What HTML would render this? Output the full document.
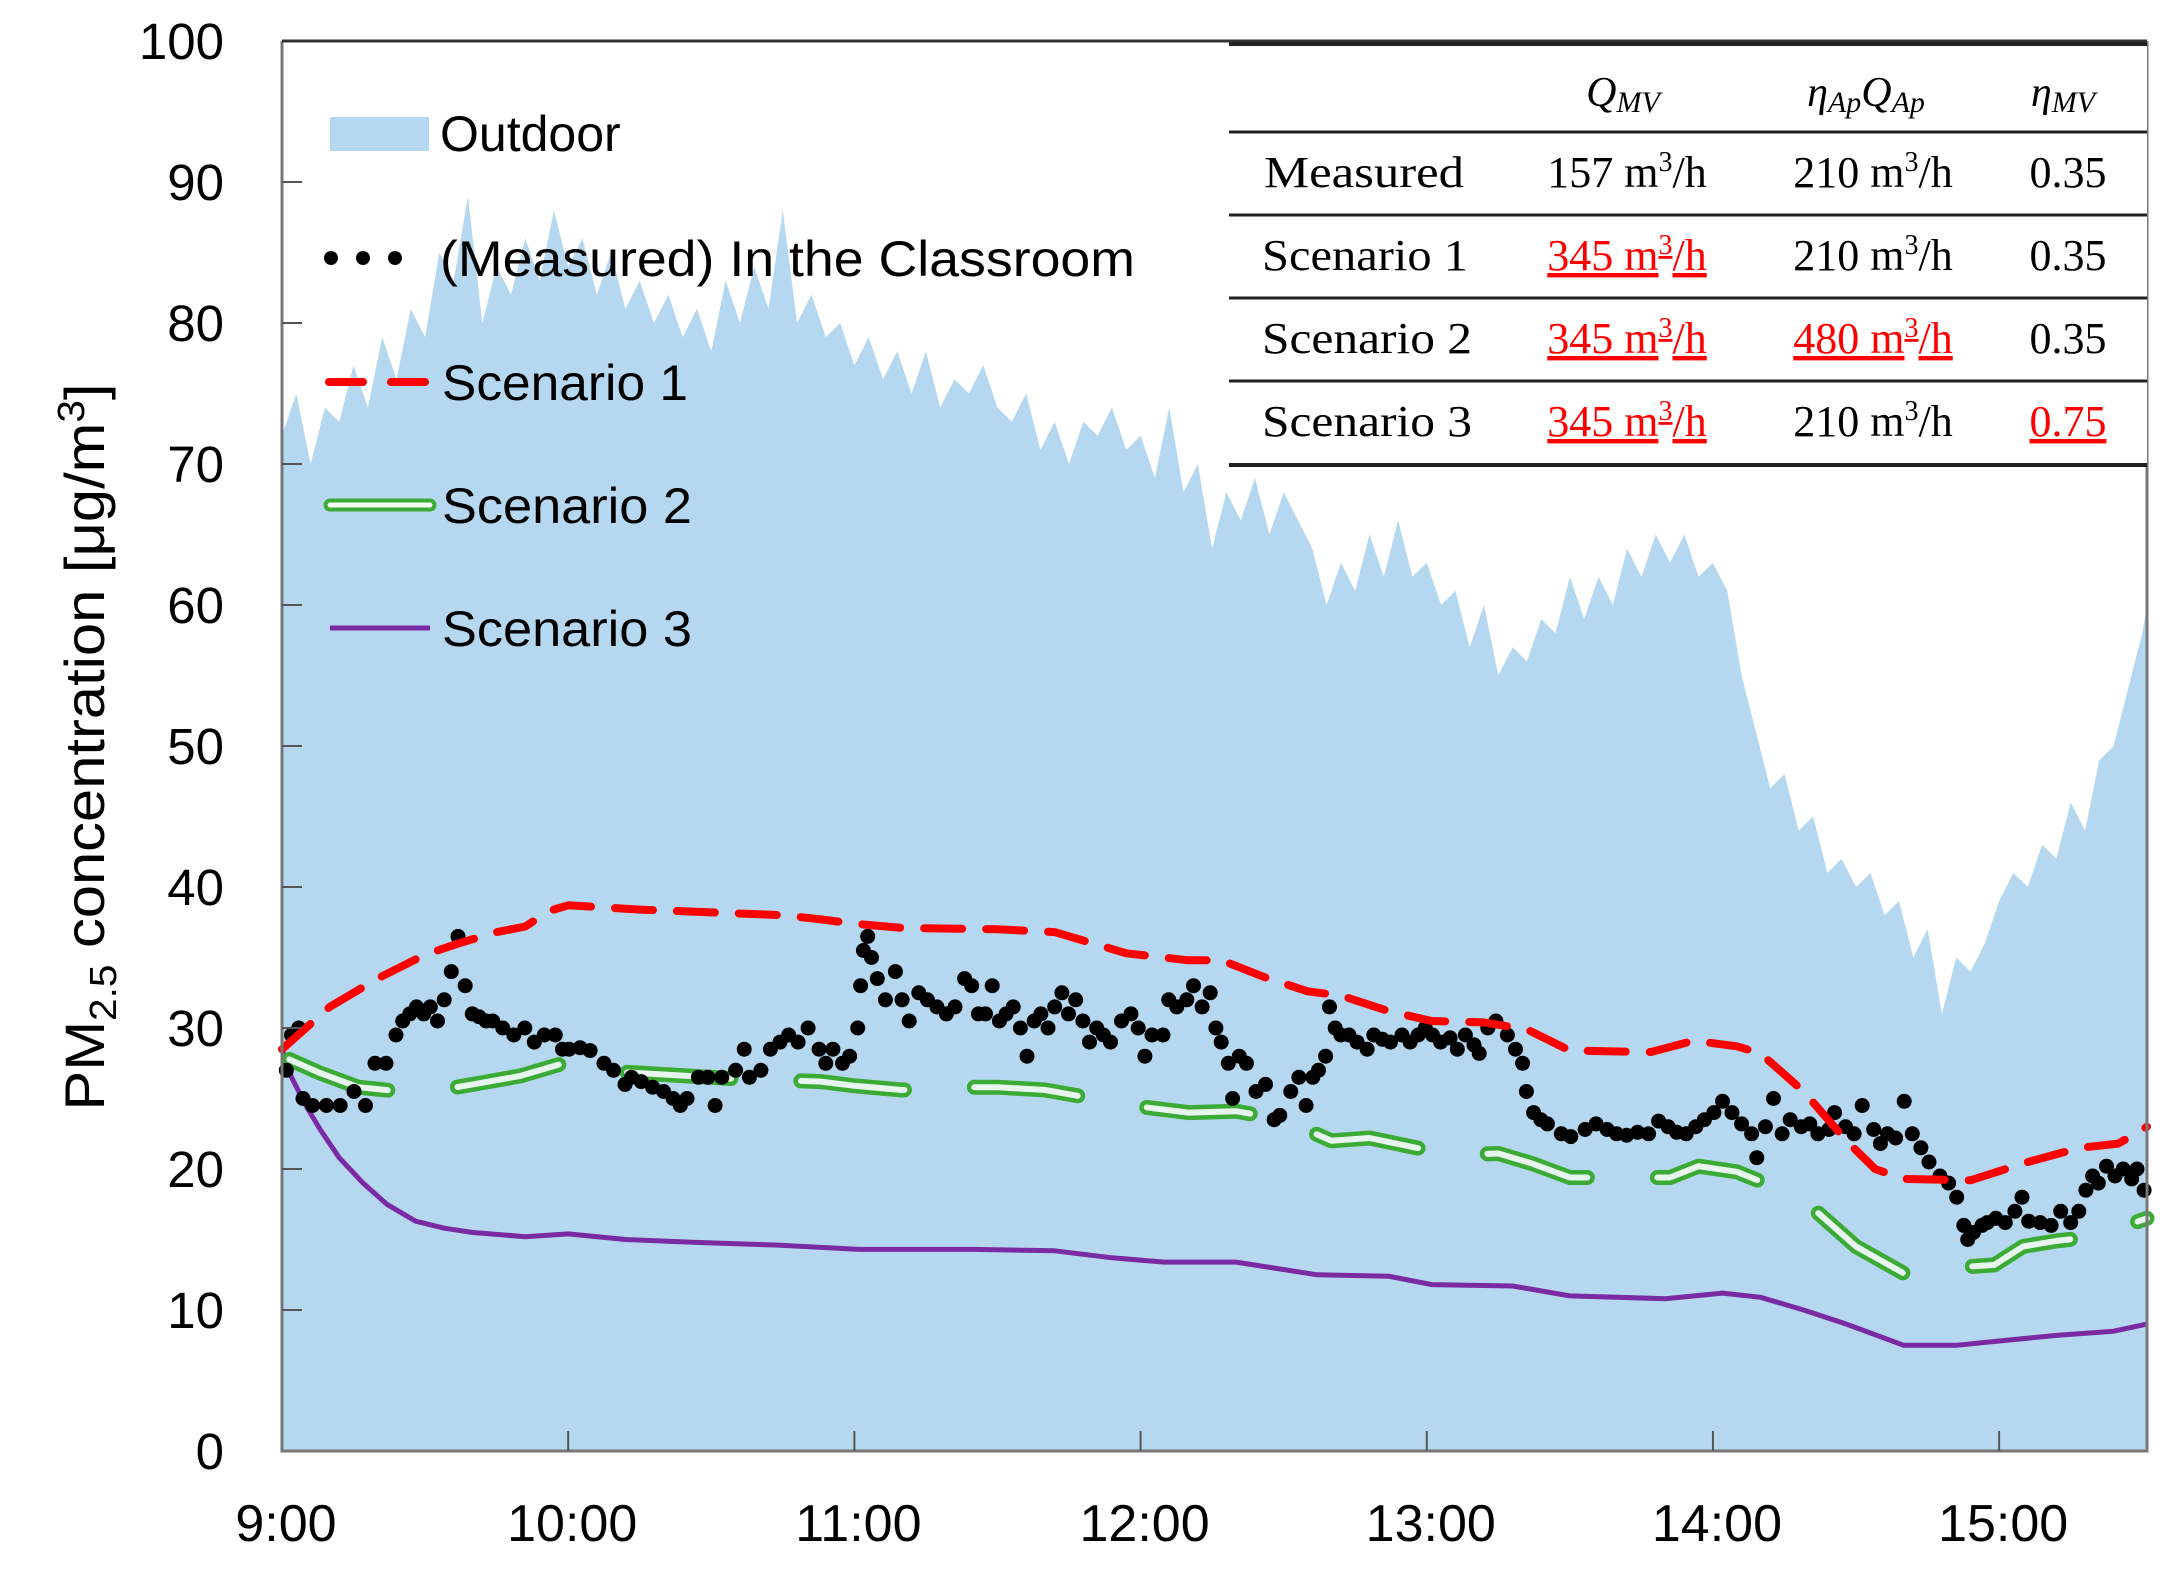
<!DOCTYPE html>
<html><head><meta charset="utf-8"><style>
html,body{margin:0;padding:0;background:#fff;}
svg{display:block;font-family:"Liberation Sans",sans-serif;}
.tbl{font-family:"Liberation Serif",serif;}
</style></head><body>
<svg id="chart" width="2164" height="1586" viewBox="0 0 2164 1586" xmlns="http://www.w3.org/2000/svg">
<g id="plot"></g>
<g id="axes"></g>
<g id="legend">
  <rect x="330" y="117" width="99" height="34" fill="#b5d8f0"/>
  <text x="440" y="151" font-size="50">Outdoor</text>
  <circle cx="331" cy="258" r="7"/>
  <circle cx="363" cy="258" r="7"/>
  <circle cx="395" cy="258" r="7"/>
  <text x="440" y="276" font-size="50" textLength="695" lengthAdjust="spacingAndGlyphs">(Measured) In the Classroom</text>
  <line x1="329" y1="382" x2="427" y2="382" stroke="#ff0000" stroke-width="8" stroke-dasharray="34 28" stroke-linecap="round"/>
  <text x="442" y="400" font-size="50" textLength="246" lengthAdjust="spacingAndGlyphs">Scenario 1</text>
  <line x1="330" y1="505" x2="430" y2="505" stroke="#3bab36" stroke-width="13" stroke-linecap="round"/>
  <line x1="330" y1="505" x2="430" y2="505" stroke="#f4fbf4" stroke-width="5" stroke-linecap="round"/>
  <text x="442" y="523" font-size="50" textLength="250" lengthAdjust="spacingAndGlyphs">Scenario 2</text>
  <line x1="330" y1="628" x2="430" y2="628" stroke="#7a2aa3" stroke-width="5"/>
  <text x="442" y="646" font-size="50" textLength="250" lengthAdjust="spacingAndGlyphs">Scenario 3</text>
</g>
<g id="table" class="tbl">
  <rect x="1229" y="42" width="918" height="423" fill="#fff"/>
  <line x1="1229" y1="44" x2="2147" y2="44" stroke="#222" stroke-width="4"/>
  <line x1="1229" y1="132" x2="2147" y2="132" stroke="#222" stroke-width="3"/>
  <line x1="1229" y1="215" x2="2147" y2="215" stroke="#222" stroke-width="3"/>
  <line x1="1229" y1="298" x2="2147" y2="298" stroke="#222" stroke-width="3"/>
  <line x1="1229" y1="381" x2="2147" y2="381" stroke="#222" stroke-width="3"/>
  <line x1="1229" y1="465" x2="2147" y2="465" stroke="#222" stroke-width="4"/>
  <g font-size="42" font-style="italic" text-anchor="middle">
    <text x="1623" y="106">Q<tspan font-size="30" dy="6">MV</tspan></text>
    <text x="1866" y="106">η<tspan font-size="30" dy="6">Ap</tspan><tspan dy="-6">Q</tspan><tspan font-size="30" dy="6">Ap</tspan></text>
    <text x="2063" y="106">η<tspan font-size="30" dy="6">MV</tspan></text>
  </g>
  <g font-size="44">
    <text x="1264" y="187" textLength="200" lengthAdjust="spacingAndGlyphs">Measured</text>
    <text x="1262" y="270" textLength="206" lengthAdjust="spacingAndGlyphs">Scenario 1</text>
    <text x="1262" y="353" textLength="210" lengthAdjust="spacingAndGlyphs">Scenario 2</text>
    <text x="1262" y="436" textLength="210" lengthAdjust="spacingAndGlyphs">Scenario 3</text>
  </g>
  <g font-size="44" text-anchor="middle">
    <text x="1627" y="187">157 m<tspan font-size="28" dy="-16">3</tspan><tspan dy="16">/h</tspan></text>
    <text x="1627" y="270" fill="#f00" text-decoration="underline">345 m<tspan font-size="28" dy="-16">3</tspan><tspan dy="16">/h</tspan></text>
    <text x="1627" y="353" fill="#f00" text-decoration="underline">345 m<tspan font-size="28" dy="-16">3</tspan><tspan dy="16">/h</tspan></text>
    <text x="1627" y="436" fill="#f00" text-decoration="underline">345 m<tspan font-size="28" dy="-16">3</tspan><tspan dy="16">/h</tspan></text>
    <text x="1873" y="187">210 m<tspan font-size="28" dy="-16">3</tspan><tspan dy="16">/h</tspan></text>
    <text x="1873" y="270">210 m<tspan font-size="28" dy="-16">3</tspan><tspan dy="16">/h</tspan></text>
    <text x="1873" y="353" fill="#f00" text-decoration="underline">480 m<tspan font-size="28" dy="-16">3</tspan><tspan dy="16">/h</tspan></text>
    <text x="1873" y="436">210 m<tspan font-size="28" dy="-16">3</tspan><tspan dy="16">/h</tspan></text>
    <text x="2068" y="187">0.35</text>
    <text x="2068" y="270">0.35</text>
    <text x="2068" y="353">0.35</text>
    <text x="2068" y="436" fill="#f00" text-decoration="underline">0.75</text>
  </g>
</g>
<text transform="translate(104,747) rotate(-90)" text-anchor="middle" font-size="56" textLength="727" lengthAdjust="spacingAndGlyphs">PM<tspan font-size="38" dy="12">2.5</tspan><tspan dy="-12"> concentration [μg/m</tspan><tspan font-size="38" dy="-20">3</tspan><tspan dy="20">]</tspan></text>
</svg>
<script>
const yTicks=[0,10,20,30,40,50,60,70,80,90,100];
const xTickMin=[0,60,120,180,240,300,360];
const xTickLabels=["9:00","10:00","11:00","12:00","13:00","14:00","15:00"];
const outdoorTime=[0,3,6,9,12,15,18,21,24,27,30,33,36,39,42,45,48,51,54,57,60,63,66,69,72,75,78,81,84,87,90,93,96,99,102,105,108,111,114,117,120,123,126,129,132,135,138,141,144,147,150,153,156,159,162,165,168,171,174,177,180,183,186,189,192,195,198,201,204,207,210,213,216,219,222,225,228,231,234,237,240,243,246,249,252,255,258,261,264,267,270,273,276,279,282,285,288,291,294,297,300,303,306,309,312,315,318,321,324,327,330,333,336,339,342,345,348,351,354,357,360,363,366,369,372,375,378,381,384,387,390,391];
const outdoorVal=[72,75,70,74,73,77,74,79,76,81,79,85,83,89,80,84,82,86,83,88,84,86,82,85,81,83,80,82,79,81,78,83,80,84,81,88,80,82,79,80,77,79,76,78,75,78,74,76,75,77,74,73,75,71,73,70,73,72,74,71,72,69,74,68,70,64,68,66,69,65,68,66,64,60,63,61,65,62,66,62,63,60,61,57,60,55,57,56,59,58,62,59,62,60,64,62,65,63,65,62,63,61,55,51,47,48,44,45,41,42,40,41,38,39,35,37,31,35,34,36,39,41,40,43,42,46,44,49,50,54,58,60];
const s1Time=[0,10,20,30,37,45,51,56,60,75,90,105,113,120,130,150,162,170,177,190,197,206,215,222,232,241,252,261,270,287,296,305,310,319,328,334,340,354,366,377,385,391];
const s1Val=[28.5,31.5,33.5,35.2,36,36.8,37.2,38.3,38.7,38.4,38.2,38,37.7,37.4,37.1,37,36.8,36,35.3,34.8,34.8,33.6,32.6,32.3,31.2,30.5,30.4,29.9,28.4,28.3,29.1,28.7,28.2,25.5,22,20,19.3,19.2,20.5,21.5,21.8,23];
const s2Time=[0,8,16,25,33,40,50,60,64,70,80,95,105,113,120,130,138,150,160,170,178,190,200,210,220,228,235,245,255,262,270,280,291,297,305,313,320,330,340,350,359,365,372,380,391];
const s2Val=[28,26.8,25.8,25.5,25.6,26,26.6,27.6,27.5,26.9,26.7,26.4,26.3,26.2,25.9,25.6,25.8,25.8,25.6,25,24.5,24,24.1,23.5,22,22.2,21.7,21,21.1,20.4,19.4,19.4,19.4,20.2,19.8,18.7,17.5,14.5,12.6,13,13.2,14.5,14.9,15.2,16.5];
const s3Time=[0,2,5,8,12,17,22,28,34,40,51,60,72,86,104,121,145,162,174,185,200,217,232,241,258,270,290,302,310,319,328,340,351,360,372,384,391];
const s3Val=[28.5,26.5,24.5,22.8,20.8,19,17.5,16.3,15.8,15.5,15.2,15.4,15,14.8,14.6,14.3,14.3,14.2,13.7,13.4,13.4,12.5,12.4,11.8,11.7,11,10.8,11.2,10.9,10,9,7.5,7.5,7.8,8.2,8.5,9];
const measTime=[0.9,2,3.5,4.4,6.4,9.3,12.2,15.1,17.5,19.5,21.8,23.9,25.3,26.8,28.2,29.7,31.1,32.6,34,35.5,36.9,38.4,39.9,41.3,42.8,44.2,46.3,48.6,50.9,52.9,55,57.3,58.8,60.2,62.5,64.6,67.5,69.5,71.9,73.3,75.3,77.7,80,82,83.5,84.9,87.3,89.3,90.8,92.2,95.1,96.9,98,100.4,102.4,104.4,106.2,108.2,110.3,112.6,114,115.5,117.5,119,120.7,121.3,121.9,122.8,123.6,124.8,126.5,128.6,130,131.5,133.5,135.3,137.3,139.3,141.1,143.1,144.6,146,147.5,148.9,150.4,151.8,153.3,154.8,156.2,157.7,159.1,160.6,162,163.5,164.9,166.4,167.9,169.3,170.8,172.2,173.7,176,178,179.5,180.9,182.4,184.7,185.9,187.6,189.7,191.1,192.9,194.6,195.8,196.9,198.4,199.3,200.7,202.2,204.2,206.2,208,209.2,211.5,213.2,214.7,216.1,217.3,218.8,219.6,220.8,222,223.7,225.4,227.5,228.9,230.7,232.4,234.8,236.5,238.2,239.7,241.2,242.9,244.9,246.4,248.1,249.9,251,252.8,254.5,256.9,258.6,260.1,260.9,262.4,263.9,265.3,268.2,270.2,273.2,275.5,277.8,279.8,281.9,284.2,286.5,288.6,290.6,292.4,294.4,296.4,298.2,300.2,302,304,306,308.1,309.2,311,312.7,314.5,316.2,318.5,320.3,322,324.3,325.5,327.8,329.6,331.3,333.7,335.1,336.6,338.3,340.1,341.8,343.6,345.3,347.6,349.4,351.1,352.6,353.4,354.6,356.4,357.5,359.3,361.3,363.3,364.8,366.2,368.6,370.9,372.9,375,376.7,378.2,379.6,380.8,382.5,384.3,386,387.8,388.9,390.4];
const measVal=[27,29.5,30,25,24.5,24.5,24.5,25.5,24.5,27.5,27.5,29.5,30.5,31,31.5,31,31.5,30.5,32,34,36.5,33,31,30.8,30.5,30.5,30,29.5,30,29,29.5,29.5,28.5,28.5,28.6,28.4,27.5,27,26,26.5,26.2,25.8,25.5,25,24.5,25,26.5,26.5,24.5,26.5,27,28.5,26.5,27,28.5,29,29.5,29,30,28.5,27.5,28.5,27.5,28,30,33,35.5,36.5,35,33.5,32,34,32,30.5,32.5,32,31.5,31,31.5,33.5,33,31,31,33,30.5,31,31.5,30,28,30.5,31,30,31.5,32.5,31,32,30.5,29,30,29.5,29,30.5,31,30,28,29.5,29.5,32,31.5,32,33,31.5,32.5,30,29,27.5,25,28,27.5,25.5,26,23.5,23.8,25.5,26.5,24.5,26.5,27,28,31.5,30,29.5,29.5,29,28.5,29.5,29.2,29,29.5,29,29.5,30,29.5,29,29.3,28.5,29.5,28.8,28.2,30,30.5,29.5,28.5,27.5,25.5,24,23.5,23.2,22.5,22.3,22.8,23.2,22.8,22.5,22.4,22.6,22.5,23.4,23,22.6,22.5,23,23.5,24,24.8,24,23.2,22.5,20.8,23,25,22.5,23.5,23,23.2,22.5,22.8,24,23,22.5,24.5,22.8,21.8,22.5,22.2,24.8,22.5,21.5,20.5,19.5,19,18,16,15,15.5,16,16.2,16.5,16.2,17,18,16.3,16.2,16,17,16.2,17,18.5,19.5,19,20.2,19.5,20,19.3,20,18.5];

const X0=282,X1=2147,Y0=1451,Y100=41,TMAX=391;
function xs(m){return X0+m*(X1-X0)/TMAX;}
function ys(v){return Y0-v*(Y0-Y100)/100;}
const NS="http://www.w3.org/2000/svg";
function mk(tag,attrs,parent){const e=document.createElementNS(NS,tag);for(const k in attrs)e.setAttribute(k,attrs[k]);parent.appendChild(e);return e;}
const plotG=document.getElementById('plot'),axesG=document.getElementById('axes');

let d="M"+xs(0)+","+ys(0);
outdoorTime.forEach((t,i)=>{d+=" L"+xs(t).toFixed(1)+","+ys(outdoorVal[i]).toFixed(1);});
d+=" L"+xs(TMAX)+","+ys(0)+" Z";
const area=mk('path',{d:d,fill:"#b5d8f0"},plotG);



function linePath(ts,vs){return ts.map((t,i)=>(i?"L":"M")+xs(t).toFixed(1)+","+ys(vs[i]).toFixed(1)).join(" ");}

const p3=mk('path',{d:linePath(s3Time,s3Val),fill:"none",stroke:"#7a2aa3","stroke-width":5,"stroke-linejoin":"round"},plotG);



const p2a=mk('path',{d:linePath(s2Time,s2Val),fill:"none",stroke:"#3bab36","stroke-width":15,"stroke-dasharray":"104 70","stroke-dashoffset":"-8","stroke-linecap":"round","stroke-linejoin":"round"},plotG);


const p2b=mk('path',{d:linePath(s2Time,s2Val),fill:"none",stroke:"#e8f5ee","stroke-width":6,"stroke-dasharray":"104 70","stroke-dashoffset":"-8","stroke-linecap":"round","stroke-linejoin":"round"},plotG);



const dots=mk('g',{},plotG);


measTime.forEach((t,i)=>{
  const c=mk('circle',{cx:xs(t).toFixed(1),cy:ys(measVal[i]).toFixed(1),r:7.5,fill:"#000"},dots);
  
  
});

const p1=mk('path',{d:linePath(s1Time,s1Val),fill:"none",stroke:"#ff0000","stroke-width":8,"stroke-dasharray":"38 24","stroke-linecap":"round","stroke-linejoin":"round"},plotG);



const fr=mk('path',{d:`M${X0},${Y100} L${X0},${Y0} L${X1},${Y0} L${X1},${Y100}`,fill:"none",stroke:"#777","stroke-width":3},axesG);


const topBorder=mk('line',{x1:X0,y1:Y100,x2:X1,y2:Y100,stroke:"#333","stroke-width":3},axesG);



yTicks.forEach(v=>{
  if(v>0&&v<100){const t=mk('line',{x1:X0,y1:ys(v),x2:X0+20,y2:ys(v),stroke:"#555","stroke-width":2},axesG);
  
  }
  const l=mk('text',{x:224,y:ys(v)+18,"text-anchor":"end","font-size":51},axesG);
  
  
  l.textContent=String(v);
});
xTickMin.forEach((m,i)=>{
  if(m>0){const t=mk('line',{x1:xs(m),y1:Y0,x2:xs(m),y2:Y0-20,stroke:"#555","stroke-width":2},axesG);
  
  }
  const l=mk('text',{x:xs(m)+4,y:1541,"text-anchor":"middle","font-size":52},axesG);
  
  
  l.textContent=xTickLabels[i];
});
const svgEl=document.getElementById('chart');
svgEl.appendChild(document.getElementById('table'));
svgEl.appendChild(document.getElementById('legend'));
</script>
</body></html>
